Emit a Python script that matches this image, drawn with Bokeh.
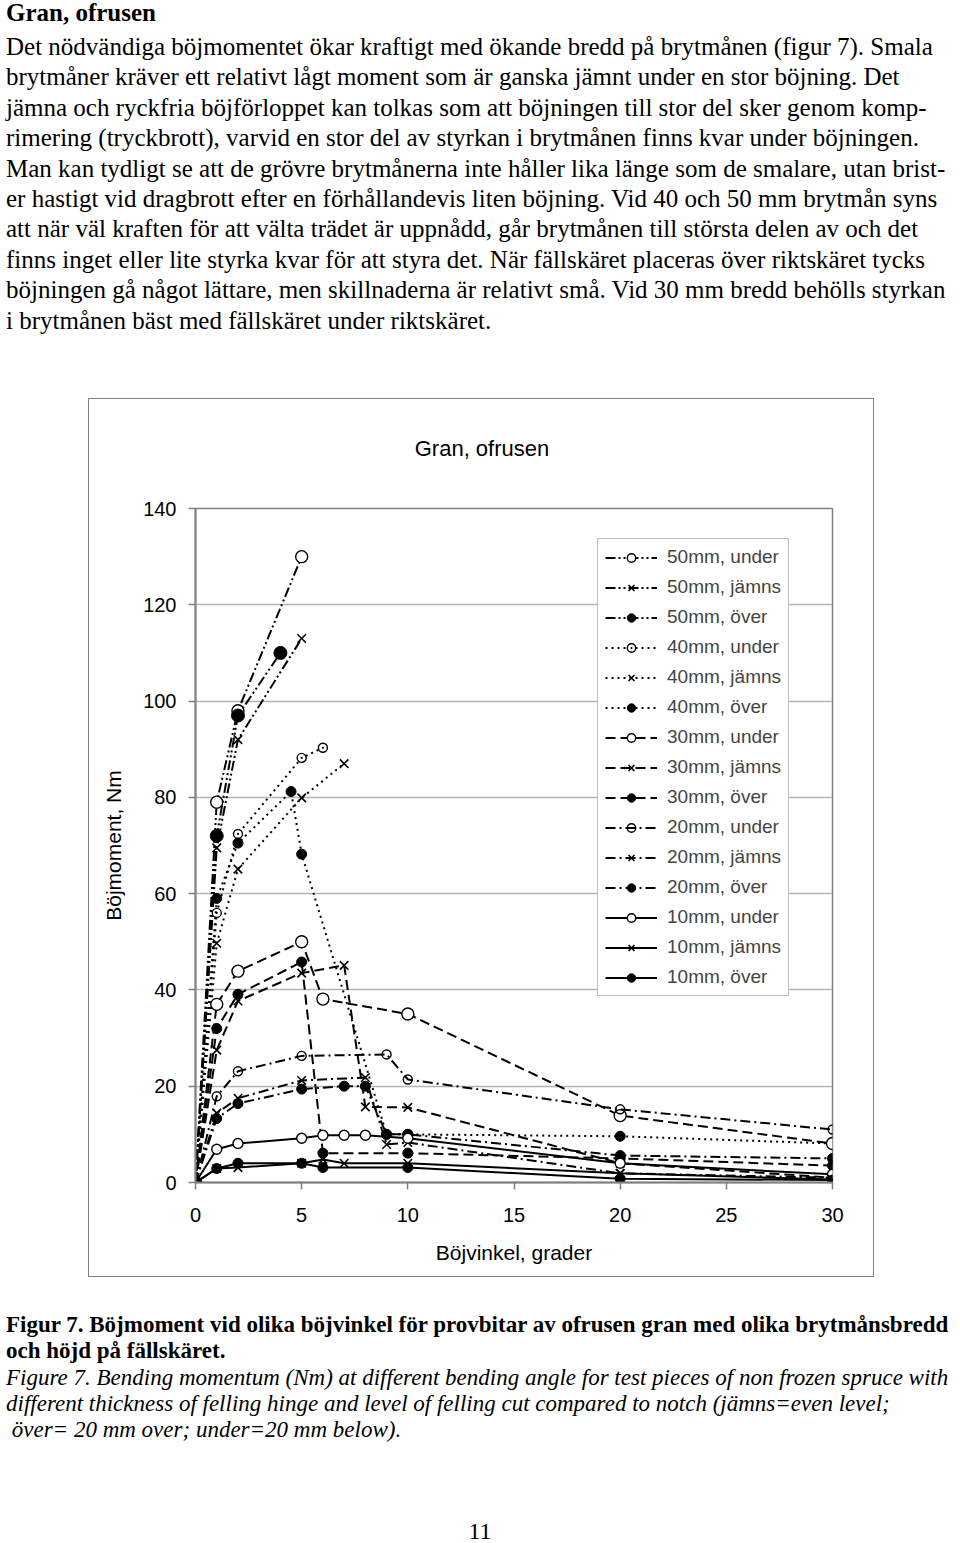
from bokeh.plotting import figure
from bokeh.models import Div, Spacer, FixedTicker, Legend, LegendItem
from bokeh.layouts import column, row
from bokeh.embed import file_html
from bokeh.resources import INLINE

# ---------------- data ----------------
x_50u = [0, 1, 2, 5]
y_50u = [0, 79, 98, 130]
x_50j = [0, 1, 2, 5]
y_50j = [0, 69.5, 92, 113]
x_50o = [0, 1, 2, 4]
y_50o = [0, 72, 97, 110]

x_40u = [0, 1, 2, 5, 6]
y_40u = [0, 56, 72.4, 88.2, 90.3]
x_40j = [0, 1, 2, 5, 7]
y_40j = [0, 49.7, 65.1, 79.9, 87]
x_40o = [0, 1, 2, 4.5, 5, 9, 10, 20, 30]
y_40o = [0, 59, 70.5, 81.2, 68.2, 10, 10, 9.6, 8.1]

x_30u = [0, 1, 2, 5, 6, 10, 20, 30]
y_30u = [0, 37, 43.9, 50, 38.1, 35, 13.9, 8.1]
x_30j = [0, 1, 2, 5, 7, 8, 10, 20, 30]
y_30j = [0, 27.5, 37.7, 43.5, 45.1, 15.7, 15.6, 4.0, 1.0]
x_30o = [0, 1, 2, 5, 6, 10, 20, 30]
y_30o = [0, 32, 39.1, 45.8, 6.1, 6.1, 5.0, 3.5]

x_20u = [0, 1, 2, 5, 9, 10, 20, 30]
y_20u = [0, 17.9, 23.1, 26.3, 26.6, 21.4, 15.2, 11.0]
x_20j = [0, 1, 2, 5, 8, 9, 10, 20, 30]
y_20j = [0, 14.4, 17.5, 21.2, 21.8, 7.9, 8.3, 1.9, 1.0]
x_20o = [0, 1, 2, 5, 7, 8, 9, 10, 20, 30]
y_20o = [0, 13.3, 16.4, 19.4, 20, 20, 10, 10, 5.6, 5.0]

x_10u = [0, 1, 2, 5, 6, 7, 8, 10, 20, 30]
y_10u = [0, 6.9, 8.1, 9.2, 9.8, 9.8, 9.8, 9.2, 4.0, 1.7]
x_10j = [0, 1, 2, 5, 6, 7, 10, 20, 30]
y_10j = [0, 2.9, 3.1, 4.0, 4.8, 4.0, 4.0, 1.9, 0.6]
x_10o = [0, 1, 2, 5, 6, 10, 20, 30]
y_10o = [0, 2.9, 4.0, 4.0, 3.1, 3.1, 0.8, 0.5]

series_labels = ["50mm, under", "50mm, jämns", "50mm, över",
                 "40mm, under", "40mm, jämns", "40mm, över",
                 "30mm, under", "30mm, jämns", "30mm, över",
                 "20mm, under", "20mm, jämns", "20mm, över",
                 "10mm, under", "10mm, jämns", "10mm, över"]
series_x = [x_50u, x_50j, x_50o, x_40u, x_40j, x_40o, x_30u, x_30j, x_30o,
            x_20u, x_20j, x_20o, x_10u, x_10j, x_10o]
series_y = [y_50u, y_50j, y_50o, y_40u, y_40j, y_40o, y_30u, y_30j, y_30o,
            y_20u, y_20j, y_20o, y_10u, y_10j, y_10o]

x_ticks = [0, 5, 10, 15, 20, 25, 30]
y_ticks = [0, 20, 40, 60, 80, 100, 120, 140]

chart_title = "Gran, ofrusen"
x_title = "Böjvinkel, grader"
y_title = "Böjmoment, Nm"

heading = "Gran, ofrusen"
para_lines = [
    "Det nödvändiga böjmomentet ökar kraftigt med ökande bredd på brytmånen (figur 7). Smala",
    "brytmåner kräver ett relativt lågt moment som är ganska jämnt under en stor böjning. Det",
    "jämna och ryckfria böjförloppet kan tolkas som att böjningen till stor del sker genom komp-",
    "rimering (tryckbrott), varvid en stor del av styrkan i brytmånen finns kvar under böjningen.",
    "Man kan tydligt se att de grövre brytmånerna inte håller lika länge som de smalare, utan brist-",
    "er hastigt vid dragbrott efter en förhållandevis liten böjning. Vid 40 och 50 mm brytmån syns",
    "att när väl kraften för att välta trädet är uppnådd, går brytmånen till största delen av och det",
    "finns inget eller lite styrka kvar för att styra det. När fällskäret placeras över riktskäret tycks",
    "böjningen gå något lättare, men skillnaderna är relativt små. Vid 30 mm bredd behölls styrkan",
    "i brytmånen bäst med fällskäret under riktskäret.",
]
caption_bold = [
    "Figur 7. Böjmoment vid olika böjvinkel för provbitar av ofrusen gran med olika brytmånsbredd",
    "och höjd på fällskäret.",
]
caption_italic = [
    "Figure 7. Bending momentum (Nm) at different bending angle for test pieces of non frozen spruce with",
    "different thickness of felling hinge and level of felling cut compared to notch (jämns=even level;",
    "&nbsp;över= 20 mm over; under=20 mm below).",
]
page_number = "11"

# ---------------- styles ----------------
dash_by_width = {"50": "10 3 2 3 2 3", "40": "2 4", "30": "10 5", "20": "10 4 2 4", "10": "solid"}

def marker_style(label):
    w = label[:2]
    kind = label.split(", ")[1]
    if kind == "jämns":
        return dict(marker="x", size=12, line_color="black", fill_color=None, line_width=1.6)
    if kind == "över":
        sz = {"50": 13, "40": 10, "30": 10, "20": 10, "10": 10}[w]
        return dict(marker="circle", size=sz, line_color="black", fill_color="black", line_width=1)
    if w == "40":
        return dict(marker="circle_dot", size=9, line_color="black", fill_color="white", line_width=1.4)
    if w == "20":
        return dict(marker="circle", size=9, line_color="black", fill_color=None, line_width=1.4)
    sz = {"50": 12, "30": 12, "10": 10}[w]
    return dict(marker="circle", size=sz, line_color="black", fill_color="white", line_width=1.4)

# ---------------- geometry of the chart box ----------------
BOX_TOP = 399          # inner top of the outlined chart box
BOX_LEFT = 89
BOX_W = 784
BOX_H = 877
TITLE_H = 70           # title strip inside the box
FIG_H = BOX_H - TITLE_H

FONT = "Liberation Sans"
p = figure(width=BOX_W, height=FIG_H, x_range=(0, 30), y_range=(0, 140),
           output_backend="svg", toolbar_location=None,
           min_border_left=106, min_border_right=41,
           min_border_top=109 - TITLE_H, min_border_bottom=94)
p.background_fill_color = "white"
p.border_fill_color = "white"
p.outline_line_color = "#808080"
p.outline_line_width = 1.5

p.xgrid.grid_line_color = None
p.ygrid.grid_line_color = "#b4b4b4"
p.ygrid.grid_line_width = 1.3

p.xaxis.ticker = FixedTicker(ticks=x_ticks)
p.yaxis.ticker = FixedTicker(ticks=y_ticks)
for ax in (p.xaxis, p.yaxis):
    ax.axis_line_color = "#808080"
    ax.axis_line_width = 2
    ax.major_tick_line_color = "#808080"
    ax.major_tick_line_width = 1.5
    ax.major_tick_in = 0
    ax.major_tick_out = 7
    ax.minor_tick_line_color = None
    ax.major_label_text_font = FONT
    ax.major_label_text_font_size = "20px"
    ax.major_label_text_color = "black"
    ax.axis_label_text_font = FONT
    ax.axis_label_text_font_style = "normal"
    ax.axis_label_text_color = "black"
p.xaxis.major_label_standoff = 18
p.yaxis.major_label_standoff = 12
p.xaxis.axis_label = x_title
p.xaxis.axis_label_text_font_size = "21px"
p.xaxis.axis_label_standoff = 16
p.yaxis.axis_label = y_title
p.yaxis.axis_label_text_font_size = "21px"
p.yaxis.axis_label_standoff = 15

items = []
for lab, xs, ys in zip(series_labels, series_x, series_y):
    dash = dash_by_width[lab[:2]]
    lr = p.line(xs, ys, line_color="black", line_width=2, line_dash=dash)
    sr = p.scatter(xs, ys, **marker_style(lab))
    items.append(LegendItem(label=lab, renderers=[lr, sr]))

legend = Legend(items=items, location=(402, 186))
legend.label_text_font = FONT
legend.label_text_font_size = "19px"
legend.label_height = 21
legend.glyph_height = 21
legend.glyph_width = 52
legend.label_standoff = 10
legend.spacing = 8
legend.padding = 7
legend.margin = 0
legend.border_line_color = "#808080"
legend.border_line_width = 1
legend.background_fill_color = "white"
legend.background_fill_alpha = 1
p.add_layout(legend, "center")

title_div = Div(
    text=(f'<div style="position:relative;width:{BOX_W}px;height:{TITLE_H}px;">'
          f'<div style="position:absolute;left:0;width:{2 * (482 - BOX_LEFT)}px;top:{449 - BOX_TOP - 15}px;'
          f'line-height:30px;text-align:center;font-family:\'{FONT}\';font-size:22px;color:black;'
          f'white-space:nowrap;">{chart_title}</div></div>'),
    width=BOX_W, height=TITLE_H, margin=0, styles={"background-color": "white"})

chart_box = column(title_div, p, spacing=0, width=BOX_W, height=BOX_H,
                   styles={"outline": "1px solid #808080", "background-color": "white"})

# ---------------- text blocks ----------------
def line_div(text, top, size, weight="normal", style="normal", lh=30):
    return (f'<div style="position:absolute;left:6px;top:{top}px;line-height:{lh}px;'
            f'font-size:{size}px;font-weight:{weight};font-style:{style};white-space:nowrap;">{text}</div>')

top_html = [f'<div style="position:relative;width:960px;height:{BOX_TOP}px;font-family:\'Liberation Serif\';color:black;">']
top_html.append(line_div(heading, 13 - 15, 25, weight="bold"))
for i, t in enumerate(para_lines):
    top_html.append(line_div(t, round(47 + 30.4 * i) - 15, 25))
top_html.append('</div>')
top_div = Div(text="".join(top_html), width=960, height=BOX_TOP, margin=0)

cap_top = BOX_TOP + BOX_H
cap_h = 1543 - cap_top
cap_html = [f'<div style="position:relative;width:960px;height:{cap_h}px;font-family:\'Liberation Serif\';color:black;">']
for i, t in enumerate(caption_bold):
    cap_html.append(line_div(t, round(1325 + 26.2 * i) - cap_top - 14, 23, weight="bold", lh=28))
for i, t in enumerate(caption_italic):
    cap_html.append(line_div(t, round(1378 + 26.2 * i) - cap_top - 14, 23, style="italic", lh=28))
cap_html.append(f'<div style="position:absolute;left:0;width:960px;text-align:center;top:{1531 - cap_top - 14}px;'
                f'line-height:28px;font-size:24px;">{page_number}</div>')
cap_html.append('</div>')
cap_div = Div(text="".join(cap_html), width=960, height=cap_h, margin=0)

layout = column(top_div, row(Spacer(width=BOX_LEFT, height=BOX_H), chart_box, spacing=0), cap_div, spacing=0)

with open("out.html", "w") as f:
    f.write(file_html(layout, INLINE))
